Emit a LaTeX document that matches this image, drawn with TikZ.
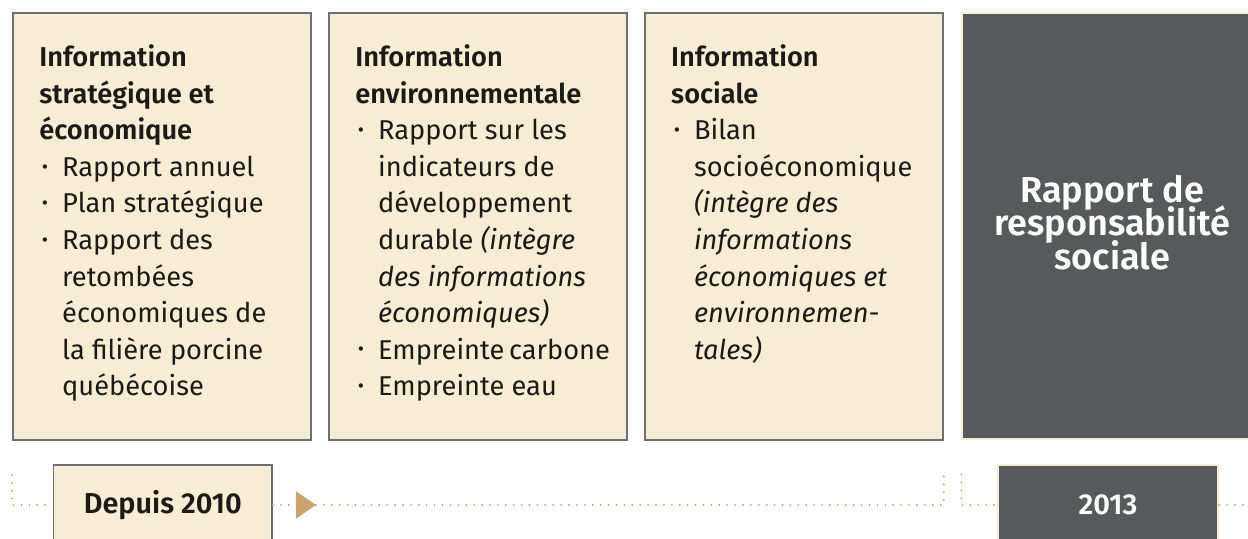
\documentclass[tikz,border=0pt]{standalone}
\usepackage{fontspec}
\setmainfont{Fira Sans}[BoldFont={Fira Sans SemiBold}]
\usepackage{xcolor}
\usepackage{tikz}
\usetikzlibrary{positioning, calc, arrows.meta}

\definecolor{creme}{HTML}{F7EDD4}
\definecolor{cadre}{HTML}{6D6E71}
\definecolor{ardoise}{HTML}{58595B}
\definecolor{sable}{HTML}{C9A46E}
\definecolor{encre}{HTML}{1C1917}

\newcommand{\puce}{\makebox[13pt][l]{\hspace{1.5pt}\raisebox{0.12em}{\scalebox{0.7}{\textbullet}}}}
\newcommand{\retrait}{\hspace*{13pt}}
\newcommand{\serre}{\lineskiplimit=-20pt\relax}

\begin{document}
\begin{tikzpicture}[
    y=-1cm,
    node distance=0.32cm and 0.32cm,
    infobox/.style={rectangle, draw=cadre, line width=1.1pt, fill=creme, minimum width=5.96cm, minimum height=8.54cm, inner sep=0pt},
    darkbox/.style={rectangle, draw=creme, line width=1.1pt, fill=ardoise, inner sep=0pt},
    yearbox/.style={rectangle, line width=1.1pt, minimum height=1.6cm, inner sep=0pt, font=\fontsize{16.4}{19}\selectfont\bfseries},
    bodytxt/.style={align=left, inner sep=0pt, text=encre, font=\fontsize{15.5}{20.8}\selectfont},
    bigtxt/.style={align=center, inner sep=0pt, text=white, font=\fontsize{20.5}{19.2}\selectfont\bfseries\serre},
    dotline/.style={draw=sable, line width=1.2pt, line cap=round, dash pattern=on 0pt off 4.5pt}
]
\clip (0,0) rectangle (24.96,10.78);

% Top row: the three families of reports and the new report
\node[infobox, anchor=north west] (strat) at (0.24,0.24) {};
\node[infobox, right=of strat] (envir) {};
\node[infobox, right=of envir] (social) {};
\node[darkbox, minimum width=6.0cm, minimum height=8.52cm, right=0.35cm of social] (rrs) {};

\node[bodytxt, below right=0.65cm and 0.54cm of strat.north west] (strattxt) {%
\textbf{Information}\\
\textbf{stratégique et}\\
\textbf{économique}\\
\puce Rapport annuel\\
\puce Plan stratégique\\
\puce Rapport des\\
\retrait retombées\\
\retrait économiques de\\
\retrait la filière porcine\\
\retrait québécoise};
\node[bodytxt, below right=0.65cm and 0.54cm of envir.north west] (envirtxt) {%
\textbf{Information}\\
\textbf{environnementale}\\
\puce Rapport sur les\\
\retrait indicateurs de\\
\retrait développement\\
\retrait durable \textit{(intègre}\\
\retrait \textit{des informations}\\
\retrait \textit{économiques)}\\
\puce Empreinte\hspace{0.17em}carbone\\
\puce Empreinte eau};
\node[bodytxt, below right=0.65cm and 0.54cm of social.north west] (socialtxt) {%
\textbf{Information}\\
\textbf{sociale}\\
\puce Bilan\\
\retrait socioéconomique\\
\retrait \textit{(intègre des}\\
\retrait \textit{informations}\\
\retrait \textit{économiques et}\\
\retrait \textit{environnemen-}\\
\retrait \textit{tales)}};
\node[bigtxt] (rrstxt) at ($(rrs.center)+(0,-0.08)$) {Rapport de\\responsabilité\\sociale};

% Bottom row: timeline
\node[yearbox, draw=cadre, fill=creme, text=encre, minimum width=4.37cm] (since) at (3.255,10.1) {Depuis 2010};
\node[yearbox, draw=creme, fill=ardoise, text=white, minimum width=4.40cm] (yr) at (22.16,10.1) {2013};

\coordinate (lt) at ($(strat.south west)+(0,0.68)$);
\coordinate (tip) at ($(since.east)+(0.86,0)$);
\coordinate (rt) at ($(social.south east)+(0,0.68)$);
\coordinate (lt2) at ($(rrs.south west)+(0,0.68)$);
\coordinate (edge) at (25.6,10.1);

\draw[dotline] (lt) |- (since.west);
\draw[dotline, -{Triangle[width=0.54cm, length=0.4cm, fill=sable]}] (since.east) -- (tip);
\draw[dotline] (tip) -| (rt);
\draw[dotline] (lt2) |- (yr.west);
\draw[dotline] (yr.east) -- (edge);

\end{tikzpicture}
\end{document}
